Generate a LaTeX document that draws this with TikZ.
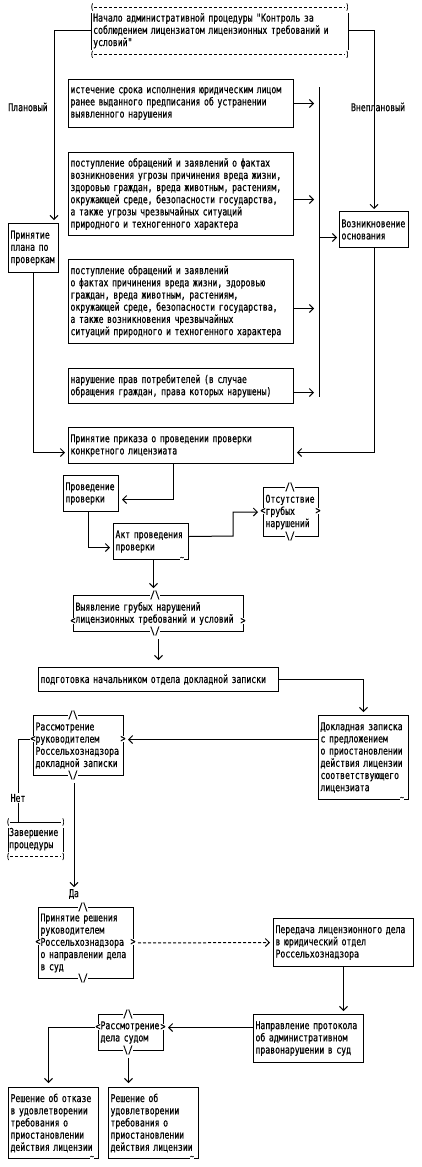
\documentclass[tikz,border=0pt]{standalone}
\usepackage{fontspec}
\usetikzlibrary{arrows.meta}
\newfontfamily\pxfont[FakeStretch=0.755,FakeBold=0.5]{DejaVu Sans Mono}
\newcommand\pxf{\pxfont\fontsize{10.8pt}{12.2pt}\selectfont}
\newcommand\bsl{\textbackslash}
\tikzset{
 box/.style={draw, line width=1pt, anchor=north west, inner xsep=2pt, inner ysep=0pt, align=left, font=\pxf},
 plain/.style={anchor=north west, inner xsep=2pt, inner ysep=0pt, align=left, font=\pxf},
 arr/.style={line width=1pt, -{Straight Barb[length=4pt,width=8pt,line width=1pt]}},
 ln/.style={line width=1pt},
 dsh/.style={line width=1pt, dash pattern=on 3pt off 2pt},
 mk/.style={font=\pxf, fill=white, inner sep=0.3pt},
 par/.style={font=\pxfont\fontsize{8pt}{8pt}\selectfont, inner sep=0pt},
 lbl/.style={font=\pxf, inner sep=1pt},
 tl/.style={font=\pxfont\fontsize{8pt}{8pt}\selectfont, fill=white, inner sep=0.3pt},
}
\begin{document}
\begin{tikzpicture}[x=1pt,y=-1pt]
\useasboundingbox[fill=white] (0,0) rectangle (421,1167);

% start terminator
\node[plain, text width=253pt, minimum height=47pt] (n0) at (91,7) {Начало административной процедуры "Контроль за\\соблюдением лицензиатом лицензионных требований и\\условий"};
\draw[dsh] ([xshift=3pt]n0.north west) -- ([xshift=-3pt]n0.north east);
\draw[dsh] ([xshift=3pt]n0.south west) -- ([xshift=-3pt]n0.south east);
\draw[ln] ([yshift=-6pt]n0.north west) -- ([yshift=4pt]n0.south west);
\draw[ln] ([yshift=-6pt]n0.north east) -- ([yshift=4pt]n0.south east);
\node[par] (n0a) at ([xshift=1pt]n0.north west) {(};
\node[par] (n0b) at ([xshift=-1pt]n0.north east) {)};
\node[par] (n0c) at ([xshift=1pt]n0.south west) {(};
\node[par] (n0d) at ([xshift=-1pt]n0.south east) {)};

\node[lbl] (plv) at (28,107) {Плановый};
\node[lbl] (vnp) at (378,107) {Внеплановый};

% condition boxes
\node[box, text width=221pt, minimum height=48pt] (b1) at (68,79) {истечение срока исполнения юридическим лицом\\ранее выданного предписания об устранении\\выявленного нарушения};
\node[box, text width=221pt, minimum height=83pt] (b2) at (68,152) {поступление обращений и заявлений о фактах\\возникновения угрозы причинения вреда жизни,\\здоровью граждан, вреда животным, растениям,\\окружающей среде, безопасности государства,\\а также угрозы чрезвычайных ситуаций\\природного и техногенного характера};
\node[box, text width=221pt, minimum height=84pt] (b3) at (68,259) {поступление обращений и заявлений\\о фактах причинения вреда жизни, здоровью\\граждан, вреда животным, растениям,\\окружающей среде, безопасности государства,\\а также возникновения чрезвычайных\\ситуаций природного и техногенного характера};
\node[box, text width=221pt, minimum height=35pt] (b4) at (68,368) {нарушение прав потребителей (в случае\\обращения граждан, права которых нарушены)};

\node[box, text width=46pt, minimum height=49pt] (plan) at (8,223) {Принятие\\плана по\\проверкам};
\node[box, text width=65pt, minimum height=36pt] (osn) at (339,211) {Возникновение\\основания};

\node[box, text width=221pt, minimum height=36pt] (prikaz) at (68,427) {Принятие приказа о проведении проверки\\конкретного лицензиата};
\node[box, text width=51pt, minimum height=36pt] (prov) at (63,475) {Проведение\\проверки};
\node[box, text width=71pt, minimum height=36pt] (akt) at (113,523) {Акт проведения\\проверки};
\node[box, text width=51pt, minimum height=49pt] (otsut) at (263,487) {Отсутствие\\грубых\\нарушений};
\node[box, text width=166pt, minimum height=36pt] (vyyav) at (73,595) {Выявление грубых нарушений\\лицензионных требований и условий};
\node[box, text width=236pt, minimum height=24pt] (podg) at (38,667) {подготовка начальником отдела докладной записки};
\node[box, text width=86pt, minimum height=84pt] (dokl) at (318,715) {Докладная записка\\с предложением\\о приостановлении\\действия лицензии\\соответствующего\\лицензиата};
\node[box, text width=86pt, minimum height=60pt] (rassm) at (33,715) {Рассмотрение\\руководителем\\Россельхознадзора\\докладной записки};
\node[plain, text width=53pt, minimum height=34pt] (zav) at (7,822) {Завершение\\процедуры};
\draw[ln] ([xshift=3pt]zav.north west) -- ([xshift=-3pt]zav.north east);
\draw[dsh] ([xshift=3pt]zav.south west) -- ([xshift=-3pt]zav.south east);
\draw[ln] ([xshift=1pt,yshift=-6pt]zav.north west) -- ([xshift=1pt,yshift=4pt]zav.south west);
\draw[ln] ([xshift=-1pt,yshift=-6pt]zav.north east) -- ([xshift=-1pt,yshift=4pt]zav.south east);
\node[par] (zva) at ([xshift=1pt]zav.north west) {(};
\node[par] (zvb) at ([xshift=-1pt]zav.north east) {)};
\node[par] (zvc) at ([xshift=1pt]zav.south west) {(};
\node[par] (zvd) at ([xshift=-1pt]zav.south east) {)};

\node[box, text width=91pt, minimum height=71pt] (resh) at (38,907) {Принятие решения\\руководителем\\Россельхознадзора\\о направлении дела\\в суд};
\node[box, text width=136pt, minimum height=48pt] (pered) at (273,918) {Передача лицензионного дела\\в юридический отдел\\Россельхознадзора};
\node[box, text width=106pt, minimum height=48pt] (napr) at (253,1014) {Направление протокола\\об административном\\правонарушении в суд};
\node[box, text width=61pt, minimum height=36pt] (rdel) at (98,1014) {Рассмотрение\\дела судом};
\node[box, text width=86pt, minimum height=71pt] (otk) at (8,1087) {Решение об отказе\\в удовлетворении\\требования о\\приостановлении\\действия лицензии};
\node[box, text width=86pt, minimum height=71pt] (udov) at (108,1087) {Решение об\\удовлетворении\\требования о\\приостановлении\\действия лицензии};

% connectors
\draw[arr, shorten >=3pt] (n0.west) -| ([xshift=-5pt]plan.north east);
\draw[arr, shorten >=2pt] (n0.east) -| (osn.north);
\coordinate (c1) at (319,87);
\coordinate (c2) at (319,397);
\draw[ln] (c1) -- (c2);
\draw[arr] (b1.east) -- ++(20,0);
\draw[arr] ([yshift=-5.5pt]b2.east) -- ++(20,0);
\draw[arr] ([yshift=-7pt]b3.east) -- ++(20,0);
\draw[arr] ([yshift=-6.5pt]b4.east) -- ++(20,0);
\draw[arr, shorten >=2pt] (c1 |- osn.west) ++(0,8) -- ([yshift=-8pt]osn.west);
\draw[arr, shorten >=3pt] (plan.south) |- ([yshift=-7pt]prikaz.west);
\draw[arr, shorten >=3pt] (osn.south) |- ([yshift=-7pt]prikaz.east);
\draw[arr, shorten >=3pt] ([xshift=-7.5pt]prikaz.south) |- ([yshift=-6pt]prov.east);
\draw[arr, shorten >=3pt] ([xshift=-2.5pt]prov.south) |- ([yshift=-6pt]akt.west);
\coordinate (k1) at (233,536);
\draw[arr, shorten >=5pt] ([yshift=5pt]akt.east) -- (k1) |- (otsut.west);
\draw[arr, shorten >=7pt] ([xshift=2.5pt]akt.south) -- ([xshift=-5pt]vyyav.north);
\draw[arr, shorten <=7pt, shorten >=7pt] (vyyav.south) -- (podg.north);
\draw[arr, shorten >=3pt] (podg.east) -| (dokl.north);
\draw[arr, shorten >=4pt] ([yshift=18pt]dokl.west) -- ([yshift=6pt]rassm.east);
\draw[ln] ([yshift=6pt]rassm.west) -| ([xshift=-17.5pt]zav.north);
\node[lbl, fill=white] (net) at (18,798) {Нет};
\node[lbl] (da) at (74,894) {Да};
\draw[arr, shorten <=7pt, shorten >=1pt] (rassm.south -| da.north) -- (da.north);
\draw[arr, dsh, shorten <=4pt, shorten >=3pt] (resh.east) -- (pered.west);
\draw[arr, shorten >=3pt] (pered.south) -- (pered.south |- napr.north);
\draw[arr, shorten >=4pt] ([yshift=11pt]napr.west) -- ([yshift=5pt]rdel.east);
\draw[arr, shorten >=4pt] ([yshift=5pt]rdel.west) -| ([xshift=-5pt]otk.north);
\draw[arr, shorten <=7pt, shorten >=4pt] ([xshift=-2.5pt]rdel.south) -- ([xshift=-25pt]udov.north);

% decision markers
\node[mk] (m1) at (290,487) {/\bsl};
\node[mk] (m2) at (290,536) {\bsl/};
\node[mk] (m3) at (263,511) {<};
\node[mk] (m4) at (318,511) {>};
\node[mk] (m5) at (155,595) {/\bsl};
\node[mk] (m6) at (155,631) {\bsl/};
\node[mk] (m7) at (73,621) {<};
\node[mk] (m8) at (243,621) {>};
\node[mk] (m9) at (73,715) {/\bsl};
\node[mk] (m10) at (73,775) {\bsl/};
\node[mk] (m11) at (33,739) {<};
\node[mk] (m12) at (123,739) {>};
\node[mk] (m13) at (83,907) {/\bsl};
\node[mk] (m14) at (83,978) {\bsl/};
\node[mk] (m15) at (38,942) {<};
\node[mk] (m16) at (133,942) {>};
\node[mk] (m17) at (128,1014) {/\bsl};
\node[mk] (m18) at (128,1050) {\bsl/};
\node[mk] (m19) at (98,1027) {<};
\node[mk] (m20) at (163,1027) {>};

% tilde marks
\node[tl] (t1) at ([xshift=-7pt,yshift=1.5pt]akt.south east) {\textasciitilde};
\node[tl] (t2) at ([xshift=-7pt,yshift=1.5pt]dokl.south east) {\textasciitilde};
\node[tl] (t3) at ([xshift=-7pt,yshift=1.5pt]otk.south east) {\textasciitilde};
\node[tl] (t4) at ([xshift=-7pt,yshift=1.5pt]udov.south east) {\textasciitilde};
\end{tikzpicture}
\end{document}
